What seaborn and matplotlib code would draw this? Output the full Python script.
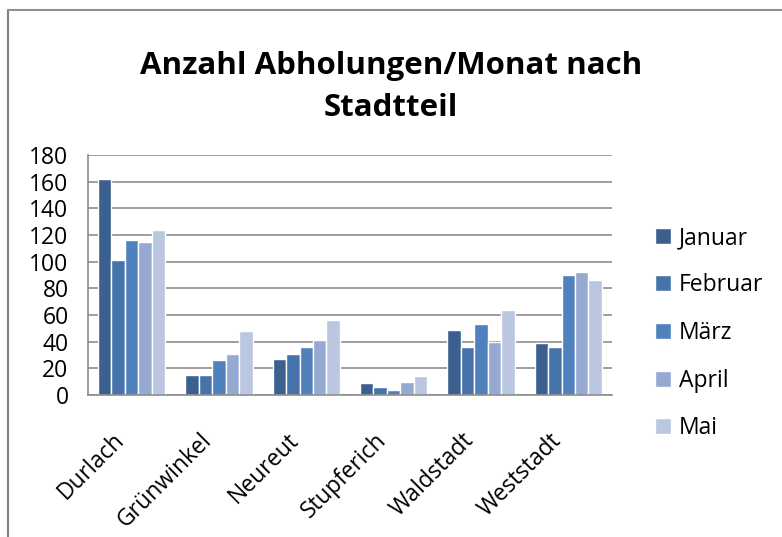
import pandas as pd
import matplotlib.pyplot as plt
from matplotlib.lines import Line2D
from matplotlib.transforms import ScaledTranslation
import seaborn as sns

# Daten
stadtteile = ['Durlach', 'Grünwinkel', 'Neureut', 'Stupferich', 'Waldstadt', 'Weststadt']
monate = ['Januar', 'Februar', 'März', 'April', 'Mai']
januar = [162, 15, 27, 9, 49, 39]
februar = [101, 15, 31, 6, 36, 36]
maerz = [116, 26, 36, 4, 53, 90]
april = [115, 31, 41, 10, 40, 92]
mai = [124, 48, 56, 14, 64, 86]
farben = ['#3B5F8E', '#4673AA', '#4F81BD', '#95A9D1', '#BBC7E1']

werte = [januar, februar, maerz, april, mai]
df = pd.DataFrame([
    {'Stadtteil': s, 'Monat': m, 'Anzahl': v}
    for m, reihe in zip(monate, werte)
    for s, v in zip(stadtteile, reihe)
])

sns.set_style('white')
plt.rcParams['font.family'] = ['Open Sans', 'DejaVu Sans']
plt.rcParams['text.color'] = 'black'
plt.rcParams['xtick.color'] = 'black'
plt.rcParams['ytick.color'] = 'black'

fig = plt.figure(figsize=(7.82, 5.37), dpi=100)
ax = fig.add_axes([0.1125, 0.2644, 0.67, 0.447])

sns.barplot(data=df, x='Stadtteil', y='Anzahl', hue='Monat', hue_order=monate,
            palette=farben, width=0.77, saturation=1, ax=ax, legend=True)

ax.set_ylim(0, 180)
ax.set_yticks(range(0, 181, 20))
ax.yaxis.grid(True, color='#8c8c8c', linewidth=1.2)
ax.set_axisbelow(True)
ax.set_xlabel('')
ax.set_ylabel('')
for side in ['top', 'right']:
    ax.spines[side].set_visible(False)
for side in ['left', 'bottom']:
    ax.spines[side].set_color('#8c8c8c')
    ax.spines[side].set_linewidth(1.2)
ax.tick_params(axis='y', labelsize=16.5, length=0, pad=14, labelcolor='black')
ax.tick_params(axis='x', labelsize=16.5, length=0, pad=24, labelcolor='black')
plt.setp(ax.get_xticklabels(), rotation=45, ha='right', rotation_mode='anchor')
# Beschriftungen etwas nach links verschieben
verschiebung = ScaledTranslation(-0.19, 0, fig.dpi_scale_trans)
for lbl in ax.get_xticklabels():
    lbl.set_transform(lbl.get_transform() + verschiebung)

leg = ax.legend(loc='center left', bbox_to_anchor=(1.043, 0.258), frameon=False,
                fontsize=16.5, handlelength=0.7, handleheight=0.7,
                labelspacing=1.03, handletextpad=0.35)
for t in leg.get_texts():
    t.set_color('black')

fig.suptitle('Anzahl Abholungen/Monat nach\nStadtteil', fontsize=22.5,
             fontweight='bold', y=0.905, linespacing=1.5, color='black')

# Rahmen des Diagrammbereichs
fig.add_artist(Line2D([7.5 / 782, 7.5 / 782], [0, 1 - 10 / 537], color='#808080', lw=1.5))
fig.add_artist(Line2D([7.5 / 782, 1], [1 - 10 / 537, 1 - 10 / 537], color='#909090', lw=1.5))

fig.savefig('out.png', dpi=100)
